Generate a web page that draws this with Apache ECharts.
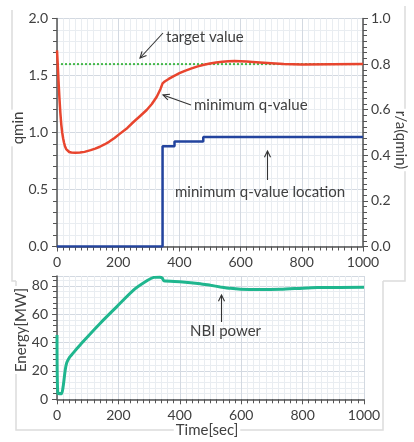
<!DOCTYPE html>
<html><head><meta charset="utf-8">
<script src="https://cdn.jsdelivr.net/npm/echarts@6/dist/echarts.min.js"></script>
<style>html,body{margin:0;padding:0;background:#fff}#c{width:414px;height:442px}</style>
</head><body><div id="c"></div>
<script>
// ---- data ----
const qminData = [[0,1.72],[2,1.62],[5,1.45],[8,1.3],[11,1.17],[14,1.07],[17,1.0],[20,0.95],[23,0.91],[26,0.88],[30,0.855],[35,0.838],[40,0.829],[47,0.824],[60,0.822],[75,0.824],[90,0.83],[110,0.845],[125,0.859],[140,0.875],[155,0.895],[170,0.918],[188,0.952],[206,0.99],[230,1.04],[249,1.09],[270,1.14],[293,1.197],[310,1.25],[326,1.314],[338,1.38],[345,1.431],[352,1.447],[365,1.47],[380,1.493],[400,1.52],[420,1.543],[440,1.562],[460,1.58],[480,1.594],[500,1.605],[520,1.614],[540,1.62],[560,1.625],[580,1.627],[600,1.626],[620,1.623],[640,1.619],[663,1.615],[700,1.607],[741,1.6],[800,1.596],[900,1.598],[1000,1.6]];
const targetData = [[0,1.6],[1000,1.6]];
const locData = [[0,0],[345,0],[345,0.44],[384,0.44],[384,0.46],[478,0.46],[478,0.48],[1000,0.48]];
const nbiData = [[0,45.4],[3,4.2],[15,4],[20,9],[23,14],[27,21],[32,26],[42,30],[48,31.5],[80,39.5],[141,53.7],[195,65.4],[250,77.2],[294,83.8],[315,86],[335,86.2],[343,85.5],[348,83.6],[400,83],[467,81.6],[500,80.4],[532,79.3],[565,78.3],[598,77.7],[650,77.4],[729,77.6],[800,78.4],[848,78.8],[1000,79]];
const xTicks = {min:0, max:1000, interval:200};
const qTicks = {min:0, max:2.0, interval:0.5};
const rTicks = {min:0, max:1.0, interval:0.2};
const eTicks = {min:0, max:87, interval:20};

const FONT = 'Lato';
const TXT = '#404040';
const AX = '#555';
const SPL = '#d3d9e1', MSPL = '#e9edf1';

function xAxis(gi){
  return {type:'value', gridIndex:gi, min:xTicks.min, max:xTicks.max, interval:xTicks.interval,
    axisLine:{show:true, onZero:false, lineStyle:{color:AX, width:1.5}},
    axisTick:{show:true, length:5, lineStyle:{color:AX}},
    minorTick:{show:true, splitNumber:10, length:4, lineStyle:{color:AX}},
    axisLabel:{fontFamily:FONT, fontSize:14, color:TXT, margin:9, formatter:v=>String(v)},
    splitLine:{show:true, lineStyle:{color:SPL, width:1}},
    minorSplitLine:{show:true, lineStyle:{color:MSPL, width:1}}};
}
const chart = echarts.init(document.getElementById('c'), null, {renderer:'canvas'});
function arrow(x1,y1,x2,y2){
  const a = Math.atan2(y2-y1, x2-x1), L=7, w=0.45;
  return [
    {type:'line', z:20, shape:{x1,y1,x2,y2}, style:{stroke:'#333', lineWidth:1.1}},
    {type:'polyline', z:20, shape:{points:[[x2-L*Math.cos(a-w), y2-L*Math.sin(a-w)],[x2,y2],[x2-L*Math.cos(a+w), y2-L*Math.sin(a+w)]]}, style:{stroke:'#333', lineWidth:1.1, fill:null}}
  ];
}
function label(text,x,y,rot,align){
  return {type:'text', x, y, rotation:rot||0, z:10,
    style:{text, font:'15px '+FONT, fill:TXT, align:align||'center', verticalAlign:'middle', backgroundColor: rot? '#fff':null, padding: rot? [0,2]:0}};
}
const frame = {stroke:'#dcdcdc', lineWidth:1.5, fill:null};
chart.setOption({
  animation:false,
  backgroundColor:'#fff',
  grid:[{left:57, right:51, top:18.5, height:228, containLabel:false},
        {left:57, right:50, top:276, height:123.3, containLabel:false}],
  xAxis:[xAxis(0), xAxis(1)],
  yAxis:[
    {type:'value', gridIndex:0, min:qTicks.min, max:qTicks.max, interval:qTicks.interval,
     axisLine:{show:true, lineStyle:{color:AX, width:1.5}},
     axisTick:{show:true, length:5, lineStyle:{color:AX}},
     minorTick:{show:true, splitNumber:5, length:4, lineStyle:{color:AX}},
     axisLabel:{fontFamily:FONT, fontSize:14, color:TXT, margin:9, formatter:v=>v.toFixed(1)},
     splitLine:{show:true, lineStyle:{color:SPL}},
     minorSplitLine:{show:true, lineStyle:{color:MSPL}}},
    {type:'value', gridIndex:0, position:'right', min:rTicks.min, max:rTicks.max, interval:rTicks.interval,
     axisLine:{show:true, lineStyle:{color:AX, width:1.5}},
     axisTick:{show:true, length:5, lineStyle:{color:AX}},
     minorTick:{show:true, splitNumber:8, length:4, lineStyle:{color:AX}},
     axisLabel:{fontFamily:FONT, fontSize:14, color:TXT, margin:8, formatter:v=>v.toFixed(1)},
     splitLine:{show:false}},
    {type:'value', gridIndex:1, min:eTicks.min, max:eTicks.max, interval:eTicks.interval,
     axisLine:{show:true, lineStyle:{color:AX, width:1.5}},
     axisTick:{show:true, length:5, lineStyle:{color:AX}},
     minorTick:{show:true, splitNumber:5, length:4, lineStyle:{color:AX}},
     axisLabel:{fontFamily:FONT, fontSize:14, color:TXT, margin:9, showMaxLabel:false, formatter:v=> (v%20===0? String(v):'')},
     splitLine:{show:true, lineStyle:{color:SPL}},
     minorSplitLine:{show:true, lineStyle:{color:MSPL}}}
  ],
  series:[
    {type:'line', xAxisIndex:0, yAxisIndex:0, data:targetData, symbol:'none', lineStyle:{color:'#45b84a', width:2, type:[2,2]}, z:3},
    {type:'line', xAxisIndex:0, yAxisIndex:0, data:qminData, symbol:'none', smooth:false, lineStyle:{color:'#e8452e', width:2.5, join:'round'}, z:4},
    {type:'line', xAxisIndex:0, yAxisIndex:1, data:locData, symbol:'none', lineStyle:{color:'#23449e', width:2.5}, z:4},
    {type:'line', xAxisIndex:1, yAxisIndex:2, data:nbiData, symbol:'none', smooth:0.2, lineStyle:{color:'#1fb68e', width:3}, z:4}
  ],
  graphic:[
    {type:'polyline', shape:{points:[[12,10],[12,281],[16,281]]}, style:frame, z:-1},
    {type:'polyline', shape:{points:[[405,6],[405,281],[383,281]]}, style:frame, z:-1},
    {type:'polyline', shape:{points:[[16,281],[16,430],[383,430],[383,281]]}, style:frame, z:-1},
    label('qmin',18,128,Math.PI/2),
    label('r/a(qmin)',401,140,-Math.PI/2),
    label('Energy[MW]',21,330,Math.PI/2),
    {type:'text', x:207, y:430, z:10, style:{text:'Time[sec]', font:'15px '+FONT, fill:TXT, align:'center', verticalAlign:'middle', backgroundColor:'#fff', padding:[0,2]}},
    label('target value',166,37,0,'left'),
    label('minimum q-value',194,105,0,'left'),
    label('minimum q-value location',175,192,0,'left'),
    label('NBI power',190,331,0,'left'),
    ...arrow(163,33,140,58),
    ...arrow(191,105,163,95),
    ...arrow(267.5,180,267.5,151),
    ...arrow(221.5,322,221.5,295)
  ]
});
</script></body></html>
